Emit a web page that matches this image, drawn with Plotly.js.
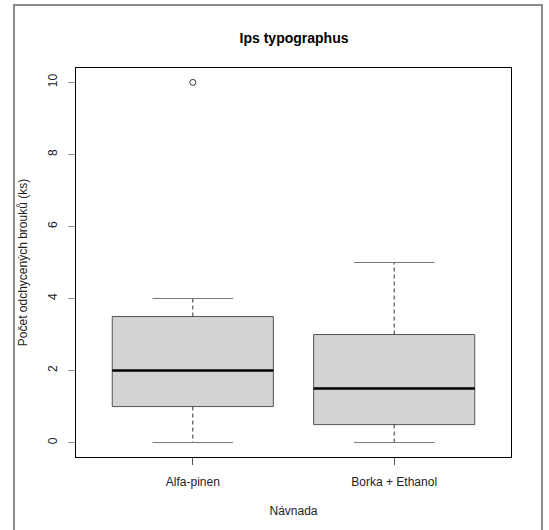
<!DOCTYPE html>
<html>
<head>
<meta charset="utf-8">
<script src="https://cdn.plot.ly/plotly-3.0.1.min.js"></script>
<style>html,body{margin:0;padding:0;background:#fff;}#chart{width:549px;height:530px;}</style>
</head>
<body>
<div id="chart"></div>
<script>
const categories = ['Alfa-pinen', 'Borka + Ethanol'];
const lowerWhisker = [0, 0];
const q1 = [1, 0.5];
const median = [2, 1.5];
const q3 = [3.5, 3];
const upperWhisker = [4, 5];
const outlierCategory = ['Alfa-pinen'];
const outlierValue = [10];
const yTicks = [0, 2, 4, 6, 8, 10];

const pos = categories.map((c, i) => i + 1);
const boxW = 0.8, capW = 0.4;
const traces = [];

categories.forEach((c, i) => {
  const p = pos[i];
  traces.push({
    type: 'scatter', mode: 'lines', hoverinfo: 'skip', showlegend: false,
    x: [p, p, null, p, p], y: [q3[i], upperWhisker[i], null, q1[i], lowerWhisker[i]],
    line: {color: '#333', width: 1, dash: '4px,3px'}
  });
  traces.push({
    type: 'scatter', mode: 'lines', hoverinfo: 'skip', showlegend: false,
    x: [p - capW / 2, p + capW / 2, null, p - capW / 2, p + capW / 2],
    y: [upperWhisker[i], upperWhisker[i], null, lowerWhisker[i], lowerWhisker[i]],
    line: {color: '#777', width: 1}
  });
  traces.push({
    type: 'box', x: [p], q1: [q1[i]], median: [median[i]], q3: [q3[i]],
    lowerfence: [q1[i]], upperfence: [q3[i]], width: boxW, whiskerwidth: 0,
    fillcolor: '#d3d3d3', line: {color: '#555', width: 1}, boxpoints: false,
    showlegend: false, hoverinfo: 'skip'
  });
  traces.push({
    type: 'scatter', mode: 'lines', hoverinfo: 'skip', showlegend: false,
    x: [p - boxW / 2, p + boxW / 2], y: [median[i], median[i]],
    line: {color: '#000', width: 2.5}
  });
});

traces.push({
  type: 'scatter', mode: 'markers', showlegend: false,
  x: outlierCategory.map(c => pos[categories.indexOf(c)]), y: outlierValue,
  marker: {symbol: 'circle-open', size: 6, color: '#333', line: {width: 1}}
});

const layout = {
  width: 549, height: 530,
  margin: {l: 76, r: 38, t: 68, b: 73},
  paper_bgcolor: '#fff', plot_bgcolor: '#fff',
  font: {family: 'Liberation Sans, Arial, sans-serif', size: 12, color: '#222'},
  title: {text: '<b>Ips typographus</b>', font: {size: 14, color: '#000'}, x: 0.5356, xanchor: 'center', y: 0.928, yanchor: 'middle'},
  xaxis: {
    range: [0.42, 2.58], tickvals: pos, ticktext: categories,
    showgrid: false, zeroline: false, showline: true, mirror: true, linecolor: '#000', linewidth: 1,
    ticks: 'outside', ticklen: 7, tickcolor: '#555', tickfont: {size: 12, color: '#222'}, ticklabelstandoff: 7,
    title: {text: 'Návnada', font: {size: 12, color: '#222'}, standoff: 18}
  },
  yaxis: {
    range: [-0.4, 10.4], tickvals: yTicks, ticktext: yTicks.map(String),
    showgrid: false, zeroline: false, showline: true, mirror: true, linecolor: '#000', linewidth: 1,
    ticks: 'outside', ticklen: 7, tickcolor: '#999', tickangle: -90, tickfont: {size: 12, color: '#222'}, ticklabelstandoff: 6,
    title: {text: 'Počet odchycených brouků (ks)', font: {size: 12, color: '#222'}, standoff: 16}
  },
  shapes: [{
    type: 'rect', xref: 'paper', yref: 'paper',
    x0: (14 - 76) / 435, x1: (542 - 76) / 435, y0: -0.25, y1: (457 - 5) / 389,
    line: {color: '#8a8a8a', width: 2}, fillcolor: 'rgba(0,0,0,0)', layer: 'below'
  }]
};

Plotly.newPlot('chart', traces, layout, {displayModeBar: false, staticPlot: true});
</script>
</body>
</html>
